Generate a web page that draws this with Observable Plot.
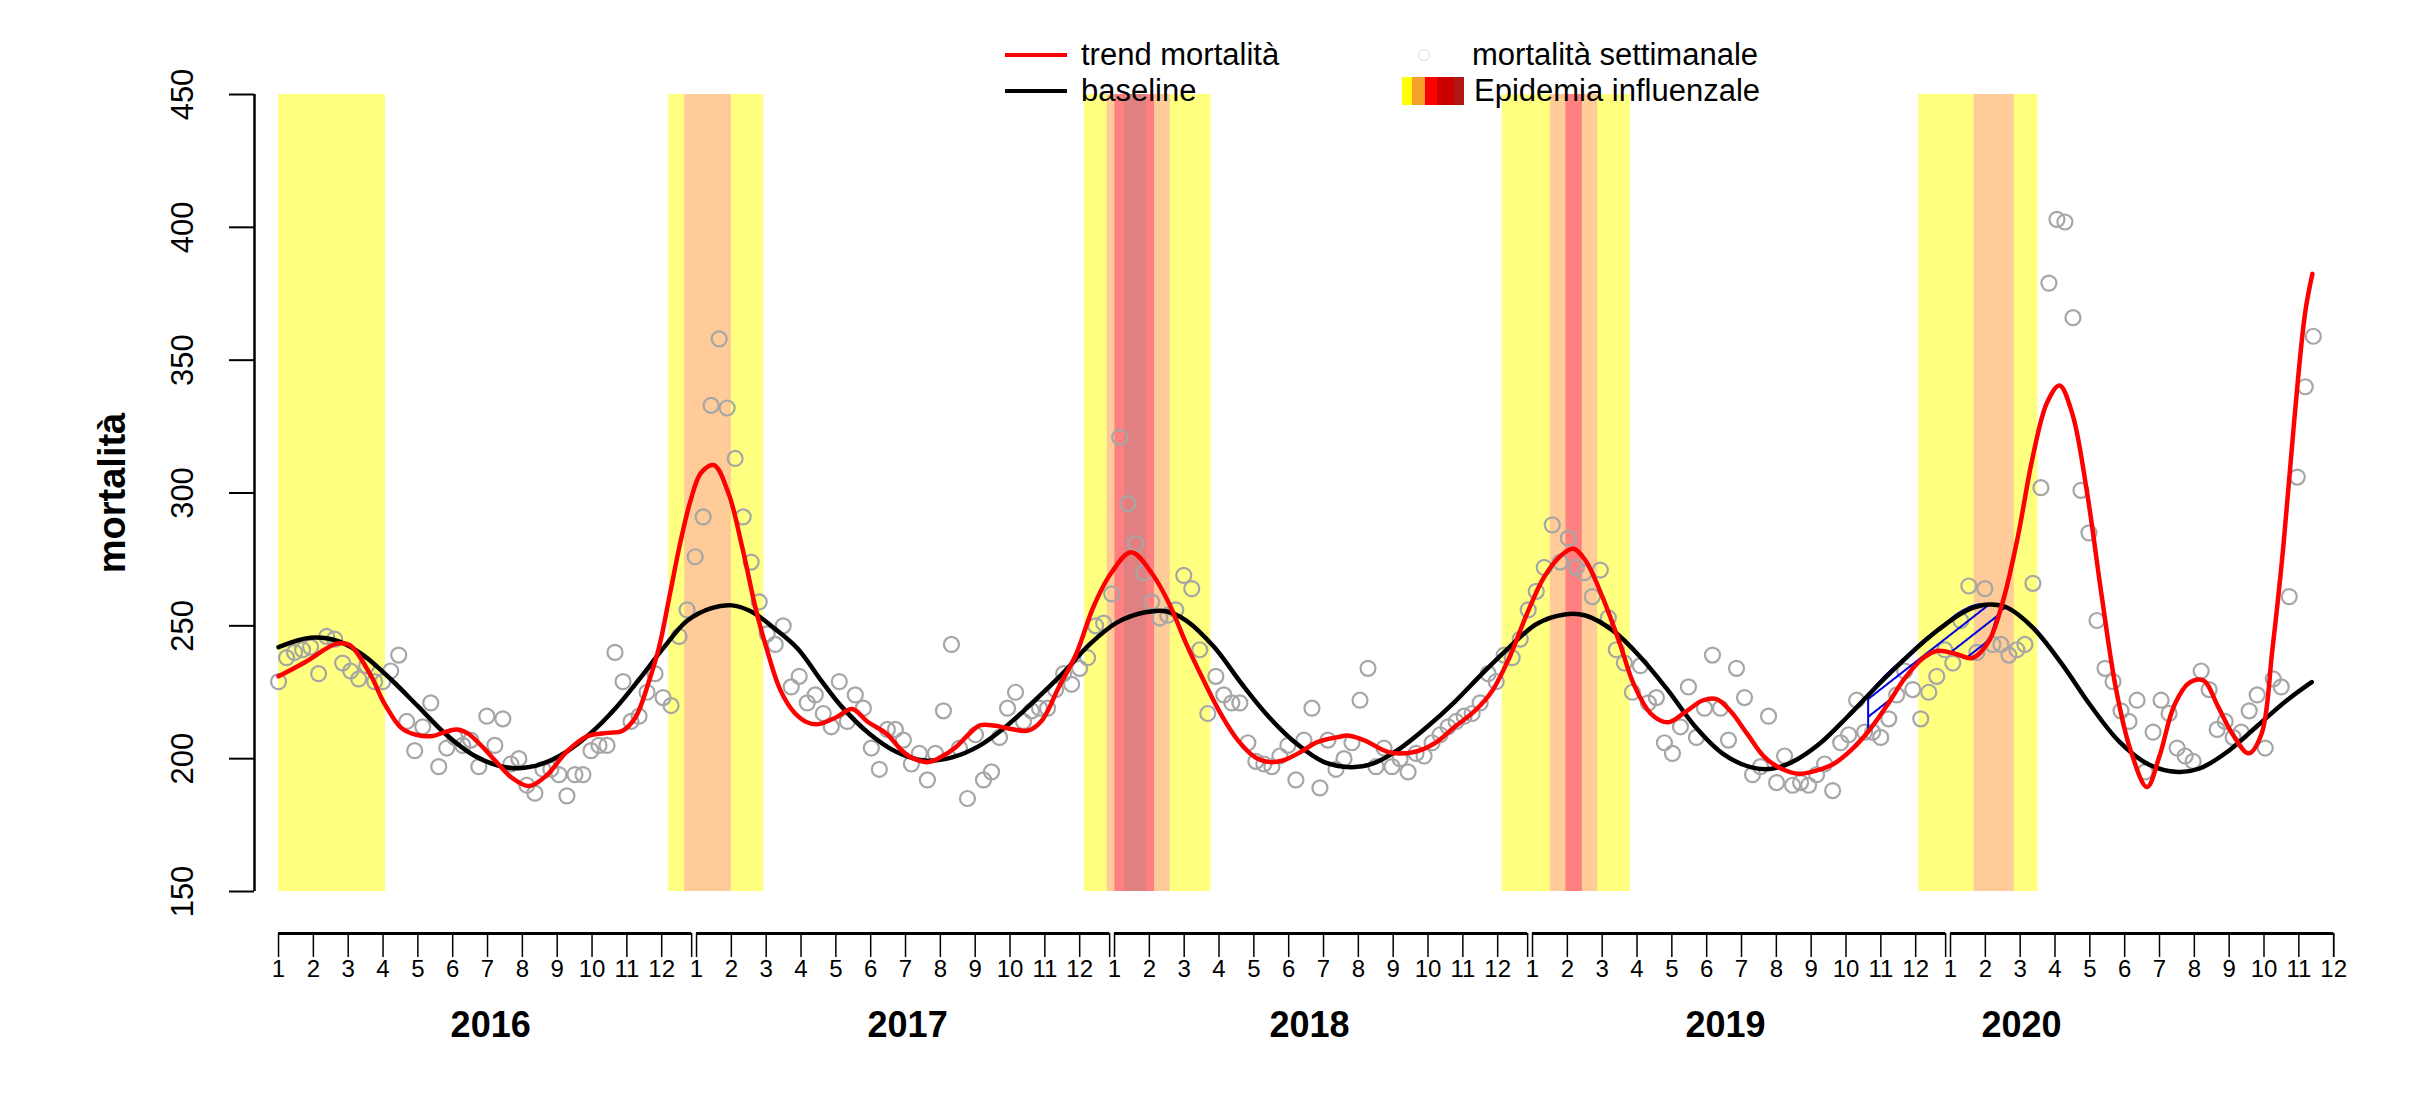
<!DOCTYPE html>
<html><head><meta charset="utf-8">
<script src="https://cdn.jsdelivr.net/npm/d3@7"></script>
<script src="https://cdn.jsdelivr.net/npm/@observablehq/plot@0.6"></script>
<style>
html,body{margin:0;padding:0;background:#fff;}
#wrap{position:relative;width:2420px;height:1112px;overflow:hidden;font-family:'Liberation Sans',Arial,sans-serif;}
#wrap svg{display:block;}
.row{position:absolute;display:flex;align-items:center;height:36px;font-size:31px;color:#000;white-space:nowrap;}
</style></head><body><div id="wrap"></div>
<script>
// ---- data ----
const anni = [2016, 2017, 2018, 2019, 2020];
const mesi = [1,2,3,4,5,6,7,8,9,10,11,12];
const fineAsseAnno = [11.86, 23.86, 35.86, 47.86, 59];
const posEtichettaAnno = [6.09, 18.06, 29.6, 41.54, 50.04];
const yTicks = [150, 200, 250, 300, 350, 400, 450];

// weekly mortality, from 2016 week 1 onward
const mortalitaSettimanale = [
 229,238,240,241,242,232,246,245,236,233,230,235,229,229,233,239,214,203,212,221,
 197,204,208,205,207,197,216,205,215,198,200,190,187,196,196,194,186,194,194,203,
 205,205,240,229,214,216,225,232,223,220,246,256,276,291,333,358,332,313,291,274,
 259,247,243,250,227,231,221,224,217,212,229,214,224,219,204,196,211,211,207,198,
 202,192,202,218,243,204,185,209,192,195,208,219,225,214,218,219,219,226,232,228,
 234,238,250,251,262,321,296,281,270,259,253,254,256,269,264,241,217,231,224,221,
 221,206,199,198,197,201,205,192,207,219,189,207,196,200,206,222,234,197,204,197,
 200,195,202,201,206,209,212,214,216,217,221,232,229,239,238,245,256,263,272,288,
 274,283,272,270,261,271,253,241,236,225,235,221,223,206,202,212,227,208,219,239,
 219,207,234,223,194,197,216,191,201,190,191,190,194,198,188,206,209,222,210,210,
 208,215,224,233,226,215,225,231,241,236,252,265,240,264,243,243,239,241,243,266,
 302,379,403,402,366,301,285,252,234,229,218,214,222,195,210,222,217,204,201,199,
 233,226,211,214,208,210,218,224,204,230,227,261,306,340,359
];

// trend (months from Jan 2016)
const trendT = [0,0.76,1.65,2.04,2.64,3.03,3.53,3.95,4.42,4.71,5.11,5.41,5.8,6.3,6.69,7.19,7.68,8.27,8.87,9.46,9.86,10.25,10.65,10.94,11.24,11.54,11.83,12.13,12.5,12.92,13.32,13.71,14.01,14.4,14.8,15.19,
 15.5,16.0,16.47,16.9,17.46,17.9,18.25,18.65,19.0,19.44,19.8,20.13,20.53,21.02,21.52,21.91,22.4,22.9,23.39,23.89,24.48,25.08,25.57,26.06,26.56,27.05,27.55,28.04,28.44,28.83,29.33,29.82,30.41,
 30.69,31.19,31.88,32.57,33.17,33.76,34.35,34.85,35.34,35.84,36.33,36.82,37.17,37.52,38.01,38.51,38.9,39.4,39.89,40.38,40.88,41.27,41.67,42.16,42.66,43.15,43.65,44.14,44.64,45.13,
 45.65,46.17,46.7,47.22,47.64,48.16,48.63,49.1,49.52,49.93,50.35,50.77,51.13,51.5,51.92,52.33,52.75,53.17,53.64,54.0,54.42,54.84,55.26,55.67,56.09,56.56,56.93,57.24,57.55,57.87,58.18,58.39];
const trendV = [231,236.3,243.2,242.8,231.5,221,211.5,209,208.5,209.7,211,209.7,205.2,198.1,192.9,189.7,193.5,202.6,208.5,209.7,210.4,215.6,229.8,242.8,262.2,281.7,297.2,307.6,310.5,299.8,279.1,255.8,241.5,226,217.5,213.6,
 213,215.5,218.7,214,209.3,203,199.9,198.7,200.5,204.3,209,212.5,212.5,211.2,210.6,214.3,226.9,239.4,257,269.6,277.7,269.6,258.3,243.2,229.4,216.9,206.8,200.5,198.7,199.3,202.4,206.2,208.1,
 208.7,206.8,202.4,202.4,205.6,211.9,218.1,225.7,238.2,254.5,268.3,276.5,279,274.6,260.8,243.2,228.2,216.9,213.7,217.5,221.9,222.5,218.1,209.4,200.6,196.2,194.3,195.5,198,203,
 210.4,219.9,230.5,237.9,240.6,239.4,237.9,244.2,260,283.3,312.9,334,340.5,329.7,300.2,262.2,226.3,203.1,189.3,201,219.9,228.4,229.4,219.9,209.4,202,209.4,241,279.1,327.6,367.8,382.5];

// baseline
const baselineT = [0,0.92,1.75,2.44,3.23,4.02,4.81,5.6,6.3,6.89,7.58,8.27,8.97,9.66,10.35,11.04,11.73,12.43,13.02,13.61,14.21,14.9,15.58,16.18,16.97,17.76,18.55,19.34,20.13,20.92,21.71,22.5,23.3,24.09,24.88,25.47,26.06,26.86,27.65,28.44,29.23,30.02,30.79,31.39,32.18,32.97,33.76,34.55,35.34,36.13,36.92,37.52,38.31,39.1,39.89,40.68,41.47,42.26,42.86,43.45,44.24,45.03,45.97,46.8,47.64,48.47,49.1,49.62,50.35,51.19,52.02,52.86,53.69,54.53,55.15,55.99,56.82,57.66,58.37];
const baselineV = [242,245.5,244.1,238.9,229.8,219.5,209.1,201.3,197.4,196.4,198.1,202.6,209.7,218.8,229.8,241.5,251.9,256.7,257.7,255.1,249.3,241.5,229.4,219.4,209.3,202.4,199.3,200.5,204.9,212.5,221.9,231.9,243.2,251.4,255.1,255.5,252,242,228.2,215.6,205.6,198.7,196.8,198,203.7,211.9,221.3,231.9,242,250.8,254.3,253.9,248.2,238.2,225.7,211.9,201.8,196.8,196.2,198.7,205.6,215.6,228.4,238.9,248.4,255.8,258,256.9,249.5,235.8,220,206.2,197.8,195,196.3,203,212.5,222,228.8];

// hatched region (trend below baseline, winter 2019-2020)
const rischioT = [45.65,46.17,46.7,47.22,47.74,48.26,48.68,49.1,49.41,49.62];
const rischioTrend = [210.4,219.9,230.5,237.9,240.6,239.0,237.9,244.2,254.8,256.9];
const rischioBaseline = [224.1,231.5,237.9,244.2,249.5,254.8,257.5,258,257.5,256.9];

// influenza epidemic periods (months from Jan 2016), by intensity level
const epidemiaInizio = [0,11.2,23.14,35.13,47.09, 11.66,23.79,36.51,48.68, 24.01,36.96, 24.28];
const epidemiaFine   = [3.07,13.93,26.77,38.81,50.51, 13.0,25.6,37.87,49.83, 25.15,37.43, 24.92];
const epidemiaLivello= [0,0,0,0,0, 1,1,1,1, 2,2, 3];
const coloriLivello = ["#FFFF80","#FFCC99","#FF8080","#E08080"];
const coloriLegenda = ["#FFFF00","#F5A02A","#FF0000","#CC0000","#B01818"];

// ---- build ----
const xMin = -0.69, xMax = 60.0;
const font = "'Liberation Sans', Arial, sans-serif";
const dots = mortalitaSettimanale.map((v, i) => ({t: i * 7 / 30.4375, v}));
const trend = trendT.map((t, i) => ({t, v: trendV[i]}));
const baseline = baselineT.map((t, i) => ({t, v: baselineV[i]}));
const rischio = rischioT.map((t, i) => ({t, lo: rischioTrend[i], hi: rischioBaseline[i]}));
const bands = epidemiaInizio.map((a, i) => ({a, b: epidemiaFine[i], c: coloriLivello[epidemiaLivello[i]]}));

const main = Plot.plot({
  width: 2420, height: 900,
  marginLeft: 254, marginRight: 52, marginTop: 94, marginBottom: 9,
  x: {domain: [xMin, xMax], axis: null},
  y: {domain: [150, 450], axis: null},
  color: {type: "identity"},
  style: {fontFamily: font, background: "white", overflow: "visible", color: "#000"},
  marks: [
    Plot.rect(bands, {x1: "a", x2: "b", fill: "c"}),
    Plot.dot(dots, {x: "t", y: "v", r: 7.5, stroke: "#A6A6A6", strokeWidth: 2.2, fill: "none"}),
    Plot.areaY(rischio, {x: "t", y1: "lo", y2: "hi", fill: "url(#tratteggio)", stroke: "#0000DD", strokeWidth: 2, curve: "catmull-rom"}),
    Plot.line(baseline, {x: "t", y: "v", stroke: "#000", strokeWidth: 4.5, curve: "catmull-rom"}),
    Plot.line(trend, {x: "t", y: "v", stroke: "#FF0000", strokeWidth: 4.5, curve: "catmull-rom"}),
    Plot.ruleX([xMin], {strokeWidth: 2.5}),
    Plot.axisY({ticks: yTicks, tickSize: 25, tickFormat: () => "", strokeWidth: 2}),
    Plot.text(yTicks, {y: d => d, text: d => String(d), frameAnchor: "left", dx: -71, rotate: -90, textAnchor: "middle", lineAnchor: "middle", fontSize: 31}),
    Plot.text(["mortalità"], {text: d => d, frameAnchor: "left", dx: -142, rotate: -90, textAnchor: "middle", lineAnchor: "middle", fontSize: 38, fontWeight: "bold"})
  ]
});
// hatch pattern
const ns = "http://www.w3.org/2000/svg";
const defs = document.createElementNS(ns, "defs");
defs.innerHTML = '<pattern id="tratteggio" patternUnits="userSpaceOnUse" width="14" height="14" patternTransform="rotate(-38)"><line x1="0" y1="7" x2="14" y2="7" stroke="#0000DD" stroke-width="2"/></pattern>';
main.insertBefore(defs, main.firstChild);

const monthTicks = anni.flatMap((a, k) => mesi.map(m => ({t: k * 12 + m - 1, m})));
const yearSeg = anni.map((a, k) => ({a: k * 12, b: fineAsseAnno[k], anno: a, lab: posEtichettaAnno[k]}));

const asse = Plot.plot({
  width: 2420, height: 212,
  marginLeft: 254, marginRight: 52, marginTop: 33, marginBottom: 155,
  x: {domain: [xMin, xMax], axis: null},
  y: {domain: [0, 1], axis: null},
  style: {fontFamily: font, background: "white", overflow: "visible", color: "#000"},
  marks: [
    Plot.ruleY(yearSeg, {x1: "a", x2: "b", y: 1, strokeWidth: 3}),
    Plot.ruleX(monthTicks, {x: "t", y1: 0, y2: 1, strokeWidth: 1.5}),
    Plot.ruleX(yearSeg, {x: "b", y1: 0, y2: 1, strokeWidth: 1.5}),
    Plot.text(monthTicks, {x: "t", text: d => String(d.m), frameAnchor: "bottom", dy: 19, fontSize: 24}),
    Plot.text(yearSeg, {x: "lab", text: d => String(d.anno), frameAnchor: "bottom", dy: 79, fontSize: 36, fontWeight: "bold"})
  ]
});

const wrap = document.getElementById("wrap");
wrap.appendChild(main);
wrap.appendChild(asse);

// legend
function row(left, top, html) {
  const d = document.createElement("div");
  d.className = "row";
  d.style.left = left + "px";
  d.style.top = top + "px";
  d.innerHTML = html;
  wrap.appendChild(d);
}
row(1005, 37, '<span style="display:inline-block;width:62px;height:4px;background:#FF0000;margin-right:14px"></span>trend mortalità');
row(1005, 73, '<span style="display:inline-block;width:62px;height:4px;background:#000;margin-right:14px"></span>baseline');
row(1418, 37, '<span style="display:inline-block;width:10px;height:10px;border:1.5px solid #ddd;border-radius:50%;margin-right:42px"></span>mortalità settimanale');
const sw = coloriLegenda.map((c, i) => `<span style="display:inline-block;width:${[10,13,12,17,10][i]}px;height:28px;background:${c}"></span>`).join("");
row(1402, 73, '<span style="display:inline-flex;margin-right:10px">' + sw + '</span>Epidemia influenzale');
</script></body></html>
